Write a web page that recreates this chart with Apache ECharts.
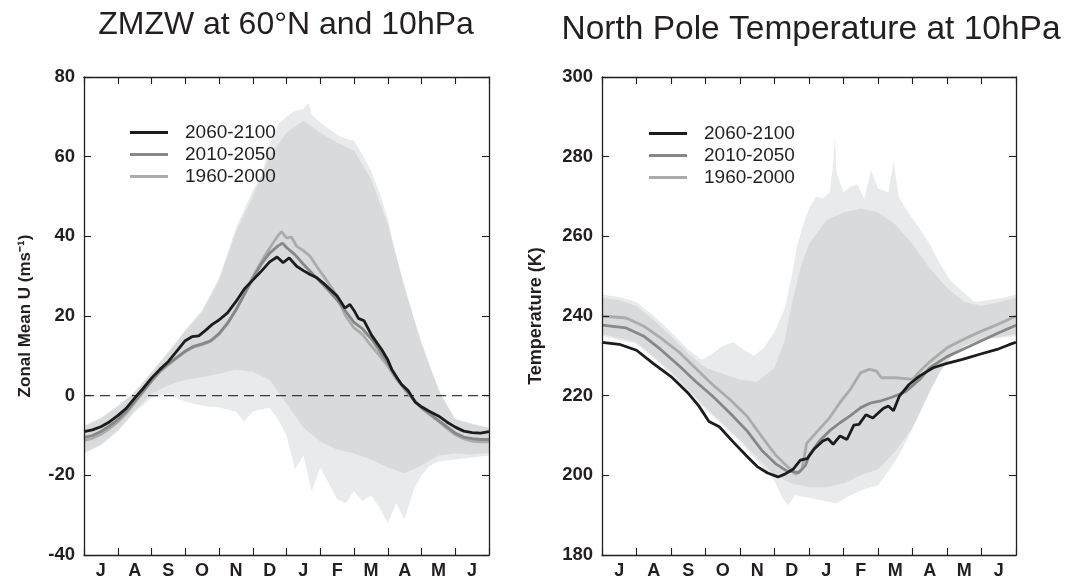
<!DOCTYPE html>
<html>
<head>
<meta charset="utf-8">
<script src="https://cdn.jsdelivr.net/npm/echarts@6/dist/echarts.min.js"></script>
<style>html,body{margin:0;padding:0;background:#fff}#c{width:1069px;height:580px}</style>
</head>
<body>
<div id="c"></div>
<script>
// ---------- categories / tick labels ----------
const MONTHS = ['J','A','S','O','N','D','J','F','M','A','M','J'];
const SERIES_NAMES = ['2060-2100','2010-2050','1960-2000'];
const TITLE_U = 'ZMZW at 60°N and 10hPa';
const TITLE_T = 'North Pole Temperature at 10hPa';
const YNAME_U = 'Zonal Mean U (ms⁻¹)';
const YNAME_T = 'Temperature (K)';

// ---------- left panel: zonal mean wind (m/s), x = months since 1 July ----------
const U_2060 = [[0,-9.0],[0.25,-8.6],[0.5,-7.8],[0.75,-6.6],[1.0,-5.0],[1.25,-3.2],[1.5,-0.6],[1.75,1.8],[2.0,4.4],[2.25,6.6],[2.5,8.6],[2.75,11.2],[3.0,13.8],[3.2,14.8],[3.4,15.0],[3.6,16.4],[3.8,17.9],[4.0,19.0],[4.25,20.8],[4.5,23.6],[4.75,26.8],[5.0,29.0],[5.25,31.2],[5.5,33.6],[5.72,34.8],[5.9,33.4],[6.08,34.6],[6.3,32.5],[6.5,31.4],[6.7,30.4],[6.9,29.6],[7.1,28.2],[7.3,26.6],[7.5,25.0],[7.73,22.0],[7.88,22.9],[8.0,21.4],[8.13,19.4],[8.3,18.8],[8.52,15.2],[8.7,13.0],[8.82,11.6],[9.0,9.0],[9.12,6.6],[9.3,4.2],[9.41,2.8],[9.61,1.2],[9.81,-1.6],[10.0,-2.8],[10.2,-3.8],[10.5,-5.1],[10.75,-6.6],[11.0,-7.9],[11.25,-8.9],[11.5,-9.3],[11.75,-9.4],[12.0,-9.0]];
const U_2010 = [[0,-10.5],[0.25,-10.0],[0.5,-9.0],[0.75,-7.6],[1.0,-6.0],[1.25,-4.0],[1.5,-1.4],[1.75,1.2],[2.0,3.8],[2.25,6.2],[2.5,8.0],[2.75,9.6],[3.0,11.2],[3.25,12.4],[3.5,13.0],[3.75,13.8],[4.0,15.6],[4.25,18.2],[4.5,21.5],[4.75,25.4],[5.0,29.4],[5.25,33.0],[5.5,35.8],[5.75,37.6],[5.88,38.3],[6.0,37.2],[6.25,35.4],[6.5,33.0],[6.75,30.8],[7.0,28.6],[7.25,26.4],[7.5,24.0],[7.75,21.2],[8.0,18.4],[8.25,16.8],[8.5,14.4],[8.75,11.4],[9.0,8.2],[9.25,4.6],[9.5,1.8],[9.75,-0.8],[10.0,-3.0],[10.25,-4.6],[10.5,-6.2],[10.75,-7.8],[11.0,-9.4],[11.25,-10.4],[11.5,-10.8],[11.75,-11.0],[12.0,-11.0]];
const U_1960 = [[0,-11.2],[0.25,-10.7],[0.5,-9.7],[0.75,-8.3],[1.0,-6.6],[1.25,-4.5],[1.5,-1.8],[1.75,0.9],[2.0,3.6],[2.25,6.0],[2.5,7.8],[2.75,9.4],[3.0,11.0],[3.25,12.2],[3.5,12.8],[3.75,13.6],[4.0,15.4],[4.25,18.0],[4.5,21.5],[4.75,25.6],[5.0,29.8],[5.25,33.6],[5.5,37.0],[5.75,40.2],[5.85,41.2],[6.0,39.6],[6.15,39.8],[6.3,37.5],[6.5,36.4],[6.7,35.0],[6.9,32.4],[7.1,30.0],[7.3,27.6],[7.5,25.0],[7.75,20.0],[8.0,17.0],[8.25,15.4],[8.5,12.6],[8.75,10.2],[9.0,7.4],[9.25,4.2],[9.5,1.6],[9.75,-0.9],[10.0,-3.2],[10.25,-4.8],[10.5,-6.4],[10.75,-8.2],[11.0,-9.8],[11.25,-10.8],[11.5,-11.4],[11.75,-11.6],[12.0,-11.6]];
// envelope of the individual years (grey spaghetti): outer = thin outliers, core = dense part
const U_OUT_HI = [[0,-7.5],[0.5,-5.5],[1.0,-2.5],[1.5,1.0],[2.0,6.0],[2.5,11.0],[3.0,16.5],[3.5,21.5],[4.0,29.5],[4.5,42.0],[5.0,51.5],[5.25,55.0],[5.5,63.0],[5.75,68.0],[6.0,70.0],[6.25,71.5],[6.5,72.0],[6.65,73.5],[6.75,70.5],[7.0,68.5],[7.25,67.0],[7.5,65.5],[7.75,64.5],[8.0,64.0],[8.25,60.5],[8.5,56.5],[8.75,51.0],[9.0,44.5],[9.25,35.0],[9.5,27.5],[9.75,20.0],[10.0,13.5],[10.25,7.5],[10.5,2.0],[10.75,-3.5],[11.0,-5.8],[11.5,-7.0],[12.0,-8.0]];
const U_CORE_HI = [[0,-7.8],[0.5,-5.8],[1.0,-2.8],[1.5,0.8],[2.0,5.8],[2.5,10.8],[3.0,16.2],[3.5,21.0],[4.0,29.0],[4.5,41.0],[5.0,50.0],[5.5,60.0],[6.0,66.0],[6.5,69.0],[7.0,66.0],[7.5,63.5],[8.0,61.5],[8.5,54.5],[9.0,43.0],[9.5,27.0],[10.0,13.0],[10.5,1.5],[11.0,-6.0],[11.5,-7.2],[12.0,-8.2]];
const U_CORE_LO = [[0,-14.3],[0.5,-12.2],[1.0,-8.6],[1.5,-3.8],[2.0,0.5],[2.5,2.6],[3.0,4.0],[3.5,4.6],[4.0,5.5],[4.5,6.5],[5.0,6.0],[5.5,4.0],[6.0,-2.0],[6.5,-8.0],[7.0,-11.5],[7.5,-13.5],[8.0,-14.5],[8.5,-16.0],[9.0,-18.0],[9.5,-19.5],[10.0,-17.5],[10.5,-15.0],[11.0,-14.5],[11.5,-14.8],[12.0,-14.3]];
const U_OUT_LO = [[0,-14.5],[0.5,-12.5],[1.0,-9.0],[1.5,-4.2],[2.0,-0.5],[2.5,0.5],[3.0,-1.5],[3.5,-2.5],[4.0,-3.0],[4.5,-4.0],[4.75,-6.5],[5.0,-4.0],[5.5,-3.0],[5.75,-6.0],[6.0,-10.0],[6.25,-18.5],[6.5,-15.0],[6.75,-24.0],[7.0,-18.0],[7.25,-22.0],[7.5,-26.0],[7.75,-27.0],[8.0,-24.0],[8.25,-26.5],[8.5,-25.0],[8.75,-28.0],[9.0,-32.0],[9.25,-27.0],[9.5,-31.0],[9.75,-24.0],[10.0,-20.0],[10.25,-17.5],[10.5,-16.5],[11.0,-16.0],[11.5,-15.5],[12.0,-15.0]];
const U_ZERO = [[0, 0], [12, 0]];

// ---------- right panel: north pole temperature (K) ----------
const T_2060 = [[0,233.4],[0.5,232.9],[1.0,231.4],[1.5,228.0],[2.0,224.8],[2.5,220.6],[2.8,217.5],[3.1,213.5],[3.4,212.2],[3.8,208.4],[4.2,204.8],[4.5,202.2],[4.8,200.6],[5.1,199.6],[5.3,200.3],[5.55,201.6],[5.75,203.8],[5.95,204.2],[6.15,206.6],[6.4,208.6],[6.55,209.2],[6.7,207.8],[6.9,209.9],[7.1,209.0],[7.3,212.6],[7.45,212.8],[7.65,215.2],[7.85,214.4],[8.15,216.8],[8.3,217.4],[8.45,216.2],[8.62,219.9],[8.9,222.8],[9.2,224.9],[9.6,227.0],[10.0,228.1],[10.45,229.1],[10.95,230.4],[11.45,231.6],[11.8,232.8],[12.0,233.4]];
const T_2010 = [[0,237.7],[0.7,237.0],[1.2,235.0],[1.7,231.6],[2.25,227.4],[2.7,223.7],[3.2,219.9],[3.7,215.7],[4.2,211.2],[4.65,206.1],[5.05,202.8],[5.35,201.1],[5.7,200.7],[5.9,202.5],[6.0,205.0],[6.3,208.6],[6.6,211.2],[6.9,213.2],[7.2,215.0],[7.5,217.0],[7.8,218.2],[8.05,218.6],[8.4,219.6],[8.8,221.0],[9.2,224.0],[9.5,227.0],[10.0,229.8],[10.5,231.8],[11.0,233.8],[11.5,235.8],[12.0,237.7]];
const T_1960 = [[0,240.0],[0.7,239.5],[1.2,237.5],[1.7,234.5],[2.25,230.8],[2.7,227.0],[3.2,222.8],[3.7,219.1],[4.2,214.9],[4.65,209.5],[5.05,204.9],[5.35,202.4],[5.62,200.3],[5.8,201.5],[5.93,208.0],[6.3,211.6],[6.6,214.5],[6.9,218.3],[7.2,221.6],[7.5,225.8],[7.75,226.6],[7.95,226.2],[8.1,224.5],[8.5,224.5],[8.8,224.3],[9.0,224.1],[9.2,226.0],[9.5,228.5],[10.0,232.0],[10.5,234.2],[11.0,236.2],[11.5,238.0],[12.0,240.0]];
const T_OUT_HI = [[0,245.4],[0.5,244.8],[1.0,243.5],[1.5,240.0],[2.0,236.0],[2.5,231.5],[2.9,229.0],[3.2,230.5],[3.5,232.5],[3.8,233.5],[4.1,231.5],[4.4,230.0],[4.7,232.0],[5.0,236.0],[5.3,242.0],[5.5,250.0],[5.65,257.5],[5.8,262.0],[6.0,267.0],[6.2,270.0],[6.4,269.5],[6.6,271.0],[6.7,278.0],[6.75,285.0],[6.8,276.0],[7.0,271.0],[7.2,272.5],[7.4,273.0],[7.6,269.5],[7.8,276.5],[8.0,272.0],[8.3,271.0],[8.45,279.0],[8.6,270.0],[8.8,267.0],[9.0,264.5],[9.2,262.0],[9.5,258.0],[9.8,253.0],[10.1,249.0],[10.4,246.5],[10.8,243.5],[11.2,244.0],[11.6,244.5],[12.0,245.4]];
const T_CORE_HI = [[0,244.5],[0.5,244.0],[1.0,242.5],[1.5,239.0],[2.0,235.0],[2.5,230.5],[3.0,227.0],[3.5,225.5],[4.0,224.0],[4.5,223.5],[5.0,227.0],[5.3,234.0],[5.5,243.0],[5.75,252.0],[6.0,258.0],[6.5,264.0],[7.0,266.0],[7.5,267.0],[8.0,266.0],[8.5,263.0],[9.0,258.0],[9.5,252.0],[10.0,247.0],[10.5,243.5],[11.0,242.5],[11.5,243.5],[12.0,244.5]];
const T_CORE_LO = [[0,235.5],[1.0,233.5],[2.0,226.0],[3.0,217.0],[4.0,209.0],[4.5,204.5],[5.0,200.0],[5.5,198.0],[6.0,197.0],[6.5,197.0],[7.0,198.0],[7.5,200.0],[8.0,201.5],[8.5,206.0],[9.0,212.0],[9.5,220.0],[10.0,228.5],[10.5,232.5],[11.0,234.0],[12.0,235.5]];
const T_OUT_LO = [[0,235.0],[0.5,234.0],[1.0,233.0],[1.5,229.5],[2.0,225.5],[2.5,221.0],[3.0,216.5],[3.5,212.5],[4.0,208.5],[4.5,203.5],[5.0,198.5],[5.25,194.0],[5.4,192.5],[5.6,195.0],[5.9,194.5],[6.2,194.0],[6.5,193.5],[6.8,193.0],[7.2,195.0],[7.6,196.5],[8.0,197.5],[8.3,201.0],[8.6,205.0],[8.9,210.0],[9.2,215.5],[9.5,221.0],[9.8,226.0],[10.1,229.5],[10.5,232.5],[11.0,234.0],[11.5,234.5],[12.0,235.0]];

// ---------- styling ----------
const INK = '#231f20';
const FONT = '"Liberation Sans", Arial, Helvetica, sans-serif';
const LINE_COLORS = ['#1c1c1c', '#878787', '#ababab'];
const CORE = '#d9dadb', OUTER = '#e9eaeb', WHITE = '#ffffff';

const grids = [
  {left: 84, right: 580, top: 77, bottom: 24},
  {left: 602, right: 53, top: 77, bottom: 24}
];

const xAxes = [], yAxes = [], series = [];
const yCfg = [
  {min: -40, max: 80, name: YNAME_U, gap: 50, nameSize: 17},
  {min: 180, max: 300, name: YNAME_T, gap: 57, nameSize: 18}
];
grids.forEach((g, gi) => {
  const frame = {show: true, onZero: false, lineStyle: {color: INK, width: 1.3}};
  const tick = {show: true, inside: true, length: 7, lineStyle: {color: INK, width: 1.1}};
  xAxes.push({gridIndex: gi, type: 'value', min: 0, max: 12, interval: 1, position: 'bottom', z: 10,
    axisLine: frame, axisTick: tick, axisLabel: {show: false}, splitLine: {show: false}});
  xAxes.push({gridIndex: gi, type: 'category', data: MONTHS, position: 'bottom', boundaryGap: true, z: 10,
    axisLine: {show: false, onZero: false}, axisTick: {show: false}, splitLine: {show: false},
    axisLabel: {interval: 0, margin: 7, color: INK, fontSize: 18, fontWeight: 'bold', fontFamily: FONT}});
  xAxes.push({gridIndex: gi, type: 'value', min: 0, max: 12, interval: 1, position: 'top', z: 10,
    axisLine: frame, axisTick: tick, axisLabel: {show: false}, splitLine: {show: false}});
  const c = yCfg[gi];
  yAxes.push({gridIndex: gi, type: 'value', min: c.min, max: c.max, interval: 20, position: 'left', z: 10,
    axisLine: frame, axisTick: tick, splitLine: {show: false},
    axisLabel: {margin: 9, color: INK, fontSize: 18.5, fontWeight: 'bold', fontFamily: FONT},
    name: c.name, nameLocation: 'middle', nameRotate: 90, nameGap: c.gap,
    nameTextStyle: {color: INK, fontSize: c.nameSize, fontWeight: 'bold', fontFamily: FONT}});
  yAxes.push({gridIndex: gi, type: 'value', min: c.min, max: c.max, interval: 20, position: 'right', z: 10,
    axisLine: frame, axisTick: tick, splitLine: {show: false}, axisLabel: {show: false}});
});

function area(gi, data, color, z) {
  series.push({type: 'line', xAxisIndex: gi * 3, yAxisIndex: gi * 2, data: data, symbol: 'none',
    silent: true, z: z, lineStyle: {width: 0, opacity: 0},
    areaStyle: {color: color, opacity: 1, origin: 'start'}});
}
function mean(gi, name, data, color, z) {
  series.push({type: 'line', name: name, xAxisIndex: gi * 3, yAxisIndex: gi * 2, data: data,
    symbol: 'none', z: z, itemStyle: {color: color}, lineStyle: {color: color, width: 2.8}});
}
[[U_OUT_HI, U_CORE_HI, U_CORE_LO, U_OUT_LO, [U_2060, U_2010, U_1960]],
 [T_OUT_HI, T_CORE_HI, T_CORE_LO, T_OUT_LO, [T_2060, T_2010, T_1960]]].forEach((p, gi) => {
  area(gi, p[0], OUTER, 1);
  area(gi, p[1], CORE, 2);
  area(gi, p[2], OUTER, 3);
  area(gi, p[3], WHITE, 4);
  if (gi === 0) {
    series.push({type: 'line', xAxisIndex: 0, yAxisIndex: 0, data: U_ZERO, symbol: 'none',
      silent: true, z: 5, lineStyle: {color: '#3a3a3a', width: 1.1, type: [10, 6]}});
  }
  // draw oldest first so the newest period sits on top
  mean(gi, SERIES_NAMES[2], p[4][2], LINE_COLORS[2], 6);
  mean(gi, SERIES_NAMES[1], p[4][1], LINE_COLORS[1], 7);
  mean(gi, SERIES_NAMES[0], p[4][0], LINE_COLORS[0], 8);
});

const legendBase = {data: SERIES_NAMES, orient: 'vertical', icon: 'rect', itemWidth: 38, itemHeight: 3,
  itemGap: 3, padding: 0, selectedMode: false, z: 20,
  textStyle: {color: INK, fontSize: 19, fontFamily: FONT, padding: [0, 0, 0, 12]}};

const chart = echarts.init(document.getElementById('c'), null, {renderer: 'canvas'});
chart.setOption({
  animation: false,
  backgroundColor: '#fff',
  grid: grids,
  xAxis: xAxes,
  yAxis: yAxes,
  legend: [Object.assign({left: 130, top: 123}, legendBase), Object.assign({left: 649, top: 124}, legendBase)],
  graphic: [
    {type: 'text', x: 286, y: 25, z: 20, style: {text: TITLE_U, fill: INK, fontSize: 32, fontFamily: FONT, align: 'center', verticalAlign: 'middle'}},
    {type: 'text', x: 811, y: 30, z: 20, style: {text: TITLE_T, fill: INK, fontSize: 33.5, fontFamily: FONT, align: 'center', verticalAlign: 'middle'}}
  ],
  series: series
});
</script>
</body>
</html>
